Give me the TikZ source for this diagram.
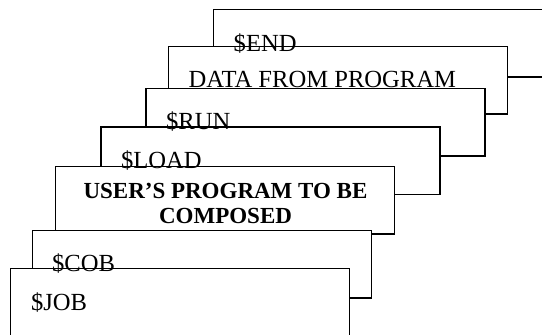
\documentclass[tikz,border=0pt]{standalone}
\usepackage{fontspec}
\setmainfont{Liberation Serif}
\begin{document}
\begin{tikzpicture}[x=0.5pt,y=-0.5pt,
  card/.style={draw=black, line width=0.75pt, fill=white,
    minimum width=169.5pt, minimum height=33.75pt,
    anchor=north west, inner sep=0pt, outer sep=0pt},
  cardtext/.style={anchor=base west, inner sep=0pt,
    font=\fontsize{12.3}{14}\selectfont},
  boldtext/.style={anchor=base, inner sep=0pt,
    font=\fontsize{11.5}{13}\selectfont\bfseries}]
\useasboundingbox (0,0) rectangle (542,335);
\clip (0,0) rectangle (542,335);
% deck of job control cards, back to front
\node[card] (cEnd)  at (213.3,9.3)   {};
\node[card] (cData) at (168.7,46.7)  {};
\node[card] (cRun)  at (146,88.3)    {};
\node[card] (cLoad) at (101,127)     {};
\node[card] (cUser) at (55.7,166.7)  {};
\node[card] (cCob)  at (32.3,230.3)  {};
\node[card] (cJob)  at (10.7,268.7)  {};
% card labels
\node[cardtext] (tEnd)  at (233.3,51.7) {\$END};
\node[cardtext] (tData) at (188.3,88)   {DATA FROM PROGRAM};
\node[cardtext] (tRun)  at (165.7,130)  {\$RUN};
\node[cardtext] (tLoad) at (120.7,168.5){\$LOAD};
\node[boldtext] (tUserA) at (225.5,198.5) {USER’S PROGRAM TO BE};
\node[boldtext] (tUserB) at (225.5,223.3) {COMPOSED};
\node[cardtext] (tCob)  at (51.7,272)   {\$COB};
\node[cardtext] (tJob)  at (30.7,311)   {\$JOB};
\end{tikzpicture}
\end{document}
